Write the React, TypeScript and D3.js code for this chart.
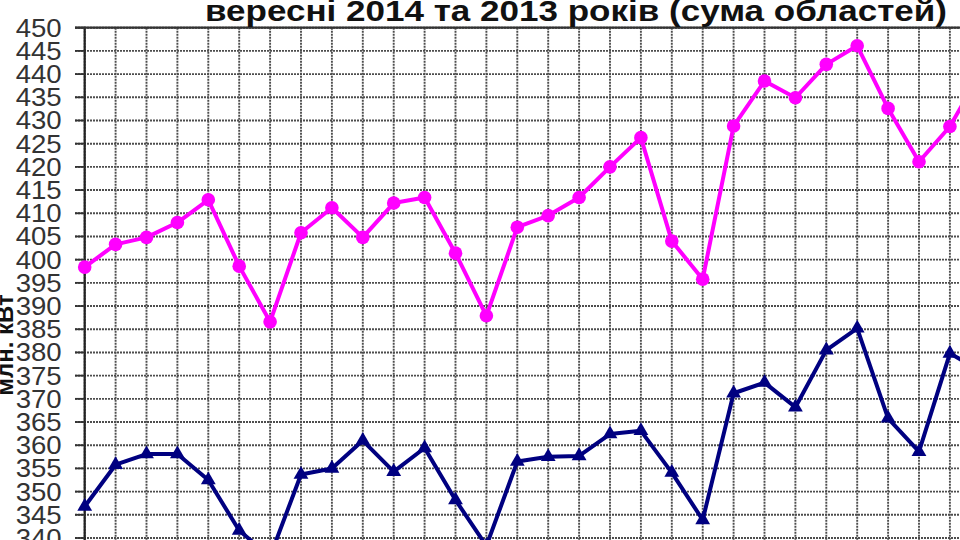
import React from "react";
import * as d3 from "d3";

// daily values, September (days 1..30)
const days = d3.range(1, 31);
const values2013 = [
  398.4, 403.3, 404.8, 408.0, 412.9, 398.6, 386.6, 405.8, 411.2, 404.8,
  412.2, 413.4, 401.4, 387.9, 407.0, 409.5, 413.4, 420.0, 426.3, 404.0,
  395.8, 428.8, 438.5, 434.9, 442.1, 446.1, 432.6, 421.1, 428.7, 440.4,
];
const values2014 = [
  346.8, 355.8, 358.1, 358.1, 352.5, 341.6, 336.0, 353.7, 355.0, 361.0,
  354.3, 359.4, 348.2, 338.3, 356.5, 357.5, 357.7, 362.4, 363.1, 354.1,
  343.9, 371.2, 373.5, 368.2, 380.5, 385.2, 365.8, 358.6, 379.8, 376.0,
];
const yTicks = d3.range(340, 451, 5);
const titleText = "вересні 2014 та 2013 років (сума областей)";
const yLabel = "млн. кВт";

const W = 960;
const H = 540;

export default function App() {
  // plot area runs past the right/bottom edges (the picture is cropped)
  const x = d3.scaleLinear().domain([1, 30]).range([84.7, 980.8]);
  const y = d3.scaleLinear().domain([340, 450]).range([538, 27.7]);

  const line = d3
    .line<number>()
    .x((_, i) => x(days[i]))
    .y((d) => y(d));

  const tri = d3.symbol().type(d3.symbolTriangle).size(95)();

  const gridStyle = { stroke: "#4d4d4d", strokeWidth: 1.9, strokeDasharray: "2 1" };

  return (
    <div style={{ position: "absolute", left: 0, top: 0 }}>
      <svg width={W} height={H} style={{ display: "block", background: "#fff" }}>
        {/* horizontal grid + ticks */}
        {yTicks.map((t) => (
          <line key={"h" + t} x1={75} x2={W + 40} y1={y(t)} y2={y(t)} {...gridStyle} />
        ))}
        {/* vertical grid */}
        {days.map((d) => (
          <line key={"v" + d} x1={x(d)} x2={x(d)} y1={y(450)} y2={H + 20} {...gridStyle} />
        ))}
        {/* frame */}
        <line x1={x(1)} x2={x(1)} y1={y(450) - 1} y2={H + 20} stroke="#222" strokeWidth={2.2} />
        <line x1={75} x2={W + 40} y1={y(450)} y2={y(450)} stroke="#333" strokeWidth={2.2} />
        {yTicks.map((t) => (
          <line key={"t" + t} x1={75} x2={x(1)} y1={y(t)} y2={y(t)} stroke="#333" strokeWidth={1.8} />
        ))}

        {/* y tick labels */}
        {yTicks.map((t) => (
          <text
            key={"l" + t}
            x={61.7}
            y={y(t) + 9}
            textAnchor="end"
            fontFamily="Liberation Sans, Arial, sans-serif"
            fontSize={25.5}
            fill="#333"
            textLength={46}
            lengthAdjust="spacingAndGlyphs"
          >
            {t}
          </text>
        ))}

        {/* y axis title */}
        <text
          transform={`translate(13,345) rotate(-90)`}
          textAnchor="middle"
          fontFamily="Liberation Sans, Arial, sans-serif"
          fontWeight="bold"
          fontSize={24}
          fill="#111"
        >
          {yLabel}
        </text>

        {/* title */}
        <text
          x={205}
          y={21}
          fontFamily="Liberation Sans, Arial, sans-serif"
          fontWeight="bold"
          fontSize={30}
          fill="#111"
          textLength={742}
          lengthAdjust="spacingAndGlyphs"
        >
          {titleText}
        </text>

        {/* 2013 series */}
        <path d={line(values2013) ?? ""} fill="none" stroke="#FF00FF" strokeWidth={4} strokeLinejoin="round" />
        {values2013.map((v, i) => (
          <circle key={"m" + i} cx={x(days[i])} cy={y(v)} r={6.8} fill="#FF00FF" />
        ))}

        {/* 2014 series */}
        <path d={line(values2014) ?? ""} fill="none" stroke="#000080" strokeWidth={4} strokeLinejoin="round" />
        {values2014.map((v, i) => (
          <path key={"b" + i} d={tri ?? ""} transform={`translate(${x(days[i])},${y(v)})`} fill="#000080" />
        ))}
      </svg>
    </div>
  );
}
